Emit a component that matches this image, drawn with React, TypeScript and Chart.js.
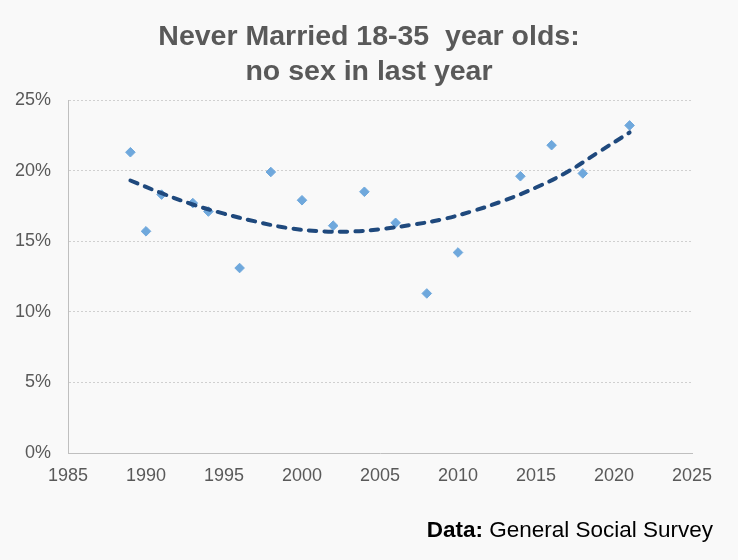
import React, { useEffect, useRef } from "react";
import { Chart, registerables } from "chart.js";

Chart.register(...registerables);

const years = [1989, 1990, 1991, 1993, 1994, 1996, 1998, 2000, 2002, 2004, 2006, 2008, 2010, 2014, 2016, 2018, 2021];
const noSexPct = [21.3, 15.7, 18.3, 17.7, 17.1, 13.1, 19.9, 17.9, 16.1, 18.5, 16.3, 11.3, 14.2, 19.6, 21.8, 19.8, 23.2];

const trendYears = [1989, 1991, 1993, 1995, 1997, 1999, 2001, 2003, 2005, 2007, 2009, 2011, 2013, 2015, 2017, 2019, 2021];
const trendPct = [19.3, 18.4, 17.6, 16.95, 16.4, 15.95, 15.72, 15.68, 15.85, 16.15, 16.55, 17.15, 17.9, 18.8, 19.9, 21.3, 22.7];

const titleLines = ["Never Married 18-35  year olds:", "no sex in last year"];
const sourceBold = "Data:";
const sourceRest = " General Social Survey";

const FONT = "'Liberation Sans', Arial, sans-serif";
const BG = "#F9F9F9";

const textPlugin = {
  id: "textNotes",
  afterDraw(chart: any) {
    const ctx = chart.ctx;
    ctx.save();
    // title
    ctx.textBaseline = "alphabetic";
    ctx.textAlign = "center";
    ctx.fillStyle = "#595959";
    ctx.font = `bold 28.5px ${FONT}`;
    ctx.fillText(titleLines[0], 369, 45);
    ctx.fillText(titleLines[1], 369, 80);
    // source
    ctx.textAlign = "left";
    ctx.fillStyle = "#000000";
    ctx.font = `bold 22.5px ${FONT}`;
    const wb = ctx.measureText(sourceBold).width;
    ctx.font = `22.5px ${FONT}`;
    const wr = ctx.measureText(sourceRest).width;
    const right = 713;
    const x0 = right - wb - wr;
    ctx.font = `bold 22.5px ${FONT}`;
    ctx.fillText(sourceBold, x0, 537);
    ctx.font = `22.5px ${FONT}`;
    ctx.fillText(sourceRest, x0 + wb, 537);
    ctx.restore();
  },
};

export default function App() {
  const ref = useRef<HTMLCanvasElement | null>(null);

  useEffect(() => {
    document.body.style.margin = "0";
    document.body.style.background = BG;
    if (!ref.current) return;
    const chart = new Chart(ref.current, {
      type: "scatter",
      data: {
        datasets: [
          {
            label: "Trend",
            data: trendYears.map((x, i) => ({ x, y: trendPct[i] })),
            showLine: true,
            borderColor: "#1F497D",
            borderWidth: 4,
            borderDash: [7.5, 8],
            borderCapStyle: "round",
            tension: 0.4,
            pointRadius: 0,
            fill: false,
            order: 0,
          },
          {
            label: "Never married",
            data: years.map((x, i) => ({ x, y: noSexPct[i] })),
            pointStyle: "rectRot",
            pointRadius: 4.8,
            pointBackgroundColor: "#6FA8DC",
            pointBorderColor: "#6FA8DC",
            pointBorderWidth: 1,
            showLine: false,
            order: 1,
          },
        ],
      },
      options: {
        animation: false,
        responsive: false,
        maintainAspectRatio: false,
        layout: { padding: { left: 0, right: 46, top: 100, bottom: 0 } },
        plugins: {
          legend: { display: false },
          tooltip: { enabled: false },
          title: { display: false },
        },
        scales: {
          x: {
            type: "linear",
            min: 1985,
            max: 2025,
            afterFit: (s: any) => {
              s.height = 107;
            },
            ticks: {
              stepSize: 5,
              color: "#595959",
              font: { family: FONT, size: 18 },
              padding: 12,
              maxRotation: 0,
              callback: (v: any) => String(v),
            },
            grid: { display: false, drawTicks: false },
            border: { display: true, color: "#BFBFBF", width: 1 },
          },
          y: {
            min: 0,
            max: 25,
            afterFit: (s: any) => {
              s.width = 68;
            },
            ticks: {
              stepSize: 5,
              color: "#595959",
              font: { family: FONT, size: 18 },
              padding: 17,
              callback: (v: any) => `${v}%`,
            },
            grid: { color: "#D0D0D0", lineWidth: 1, drawTicks: false },
            border: { display: true, color: "#BFBFBF", width: 1, dash: [2, 2] },
          },
        },
      },
      plugins: [textPlugin],
    });
    return () => chart.destroy();
  }, []);

  return (
    <div style={{ width: 738, height: 560, background: BG, position: "relative" }}>
      <canvas ref={ref} width={738} height={560} style={{ width: 738, height: 560, display: "block" }} />
    </div>
  );
}
